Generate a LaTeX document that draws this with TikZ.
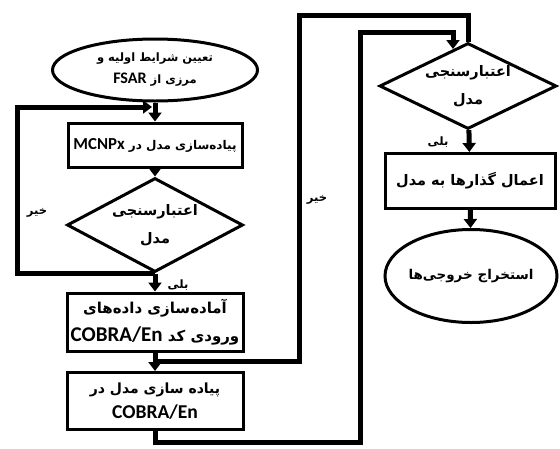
\documentclass[tikz,border=0pt]{standalone}
\usepackage{fontspec}
\TeXXeTstate=1
\newfontfamily\arabicfont[Script=Arabic]{DejaVu Sans}
\newfontfamily\latinfont[Scale=1.4]{Carlito}
\newcommand{\fa}[1]{\beginR#1\endR}
\newcommand{\en}[1]{\beginL{\latinfont\bfseries #1}\endL{}}
\newcommand{\fasize}[2]{\arabicfont\bfseries\fontsize{#1}{#2}\selectfont}
\usepackage{tikz}
\usetikzlibrary{
    shapes.geometric,
    arrows.meta,
    positioning
}
\tikzset{
    % Text inside the shapes
    txt/.style={
        font=\fasize{12.5}{20},
        align=center,
        text=black,
        inner sep=0pt,
    },
    % Base style for all nodes
    flow base/.style={
        txt,
        draw=black,
        line width=3pt,
        fill=white,
    },
    % Start/Stop nodes
    startstop/.style={
        flow base,
        ellipse,
    },
    % Process boxes
    process/.style={
        flow base,
        rectangle,
    },
    % Decision diamonds
    decision/.style={
        flow base,
        diamond,
    },
    % Connectors
    arrow/.style={
        -{Triangle[length=9pt, width=13pt]},
        line width=5pt,
        draw=black,
    },
    line/.style={
        line width=5pt,
        draw=black,
    },
    % Yes/No labels
    edge label/.style={
        font=\fasize{11.5}{12},
        inner sep=0pt,
    },
}
\begin{document}
\begin{tikzpicture}[x=1pt, y=-1pt]
    \useasboundingbox (0,0) rectangle (560,448);

    % Left column
    \node (start) [startstop, minimum width=205pt, minimum height=62pt] at (155,70) {};
    \node (starttxt) [txt, font=\fasize{11.5}{22}] at (start)
        {\fa{تعیین شرایط اولیه و}\\\fa{مرزی از \en{FSAR}}};
    \node (mcnp) [process, minimum width=174pt, minimum height=44pt,
        font=\fasize{12}{20}] at (155,145)
        {\fa{پیاده‌سازی مدل در \en{MCNPx}}};
    \node (valid) [decision, minimum width=176pt, minimum height=94pt] at (155,225) {};
    \node (validtxt) [txt, font=\fasize{14.5}{28}] at (valid) {\fa{اعتبارسنجی}\\\fa{مدل}};
    \node (prep) [process, minimum width=176pt, minimum height=58pt,
        font=\fasize{15}{28}] at (155,322)
        {\fa{آماده‌سازی داده‌های}\\\fa{ورودی کد \en{COBRA/En}}};
    \node (cobra) [process, minimum width=176pt, minimum height=57pt,
        font=\fasize{14}{25}] at (155,401)
        {\fa{پیاده سازی مدل در}\\\en{COBRA/En}};

    % Right column
    \node (valid2) [decision, minimum width=177pt, minimum height=86pt] at (468,86) {};
    \node (valid2txt) [txt, font=\fasize{14.5}{28}] at (valid2) {\fa{اعتبارسنجی}\\\fa{مدل}};
    \node (trans) [process, minimum width=170pt, minimum height=55pt,
        font=\fasize{14.5}{24}] at (470,181)
        {\fa{اعمال گذارها به مدل}};
    \node (out) [startstop, minimum width=172pt, minimum height=93pt] at (471,276) {};
    \node (outtxt) [txt, font=\fasize{13.5}{24}] at (out) {\fa{استخراج خروجی‌ها}};

    % Joins on the connectors
    \coordinate (join1) at (152,107);
    \coordinate (join2) at (155,361);
    \coordinate (in2) at (453,49);

    % Main flow
    \draw [arrow] (start) -- (mcnp);
    \draw [arrow] (mcnp) -- (valid);
    \draw [arrow] (valid) -- (prep);
    \draw [arrow] (prep) -- (cobra);
    \draw [arrow] (cobra.south) |- (360,442) -- (360,32) -| (in2);
    \draw [arrow] (valid2) -- (trans);
    \draw [arrow] (trans) -- (out);

    % Feedback loops
    \draw [arrow] (valid.south) -| (17,107) -- (join1);
    \draw [line] (valid2.north) |- (299,15) |- (join2);

    % Labels
    \node (no1) [edge label] at (37,213) {\fa{خیر}};
    \node (yes1) [edge label] at (178,285) {\fa{بلی}};
    \node (no2) [edge label] at (317,200) {\fa{خیر}};
    \node (yes2) [edge label] at (438,142) {\fa{بلی}};
\end{tikzpicture}
\end{document}
